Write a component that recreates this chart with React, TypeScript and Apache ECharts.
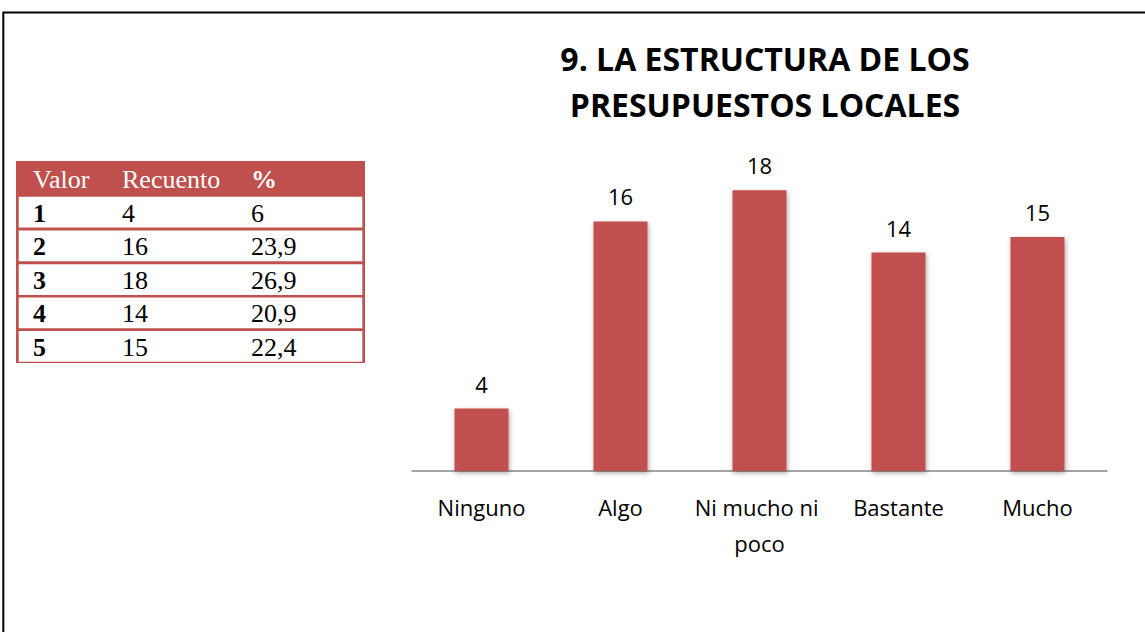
import React, { useEffect, useRef } from "react";
import * as echarts from "echarts";

const categories = ["Ninguno", "Algo", "Ni mucho ni poco", "Bastante", "Mucho"];
const counts = [4, 16, 18, 14, 15];

const tableHeader = ["Valor", "Recuento", "%"];
const tableValores = ["1", "2", "3", "4", "5"];
const tableRecuento = ["4", "16", "18", "14", "15"];
const tablePct = ["6", "23,9", "26,9", "20,9", "22,4"];

const titleText = "9. LA ESTRUCTURA DE LOS\nPRESUPUESTOS LOCALES";

const RED = "#C0504D";

export default function App() {
  const ref = useRef<HTMLDivElement>(null);
  useEffect(() => {
    if (!ref.current) return;
    const chart = echarts.init(ref.current, null, { renderer: "svg" });

    const tX = 16, tY = 161, tW = 349, tH = 202;
    const headerH = 35.5;
    const rowTops = [196.7, 230.5, 264.2, 297.6, 331];
    const rowH = 30.7;
    const colX = [33, 122, 251];
    const serif = "'Liberation Serif', 'Times New Roman', serif";

    const graphics: any[] = [
      {
        type: "rect",
        shape: { x: 3.3, y: 12.5, width: 1160, height: 640 },
        style: { fill: "none", stroke: "#000", lineWidth: 2 },
      },
      {
        type: "rect",
        shape: { x: tX, y: tY, width: tW, height: tH },
        style: { fill: RED },
      },
    ];
    tableHeader.forEach((h, i) => {
      graphics.push({
        type: "text",
        x: colX[i],
        y: tY + headerH / 2 + 1,
        style: {
          text: h,
          fill: "#fff",
          font: `${i === 2 ? "bold " : ""}26px ${serif}`,
          verticalAlign: "middle",
          align: "left",
        },
      });
    });
    rowTops.forEach((top, r) => {
      graphics.push({
        type: "rect",
        shape: { x: tX + 2.7, y: top, width: tW - 5.4, height: rowH },
        style: { fill: "#fff" },
      });
      const vals = [tableValores[r], tableRecuento[r], tablePct[r]];
      vals.forEach((v, i) => {
        graphics.push({
          type: "text",
          x: colX[i],
          y: top + rowH / 2 + 1,
          style: {
            text: v,
            fill: "#000",
            font: `${i === 0 ? "bold " : ""}26px ${serif}`,
            verticalAlign: "middle",
            align: "left",
          },
        });
      });
    });

    chart.setOption({
      animation: false,
      title: {
        text: titleText,
        left: 760,
        top: 30,
        textAlign: "center",
        textStyle: {
          fontFamily: "'Open Sans', sans-serif",
          fontWeight: "bold",
          fontSize: 32,
          lineHeight: 46,
          color: "#000",
        },
      },
      grid: { left: 412, right: 38, top: 159, bottom: 161 },
      xAxis: {
        type: "category",
        data: categories,
        axisLine: { lineStyle: { color: "#868686", width: 1.5 } },
        axisTick: { show: false },
        axisLabel: {
          color: "#000",
          fontFamily: "'Open Sans', sans-serif",
          fontSize: 22,
          lineHeight: 36,
          margin: 18,
          width: 140,
          overflow: "break",
          interval: 0,
        },
      },
      yAxis: {
        type: "value",
        min: 0,
        max: 20,
        show: false,
        splitLine: { show: false },
      },
      series: [
        {
          type: "bar",
          data: counts,
          barWidth: 54,
          itemStyle: {
            color: RED,
            shadowBlur: 5,
            shadowColor: "rgba(0,0,0,0.35)",
            shadowOffsetX: 1,
            shadowOffsetY: 2,
          },
          label: {
            show: true,
            position: "top",
            distance: 14,
            color: "#000",
            fontFamily: "'Open Sans', sans-serif",
            fontSize: 22,
          },
        },
      ],
      graphic: graphics,
    });

    return () => chart.dispose();
  }, []);

  return (
    <div
      ref={ref}
      style={{ position: "absolute", left: 0, top: 0, width: 1145, height: 632, background: "#fff" }}
    />
  );
}
